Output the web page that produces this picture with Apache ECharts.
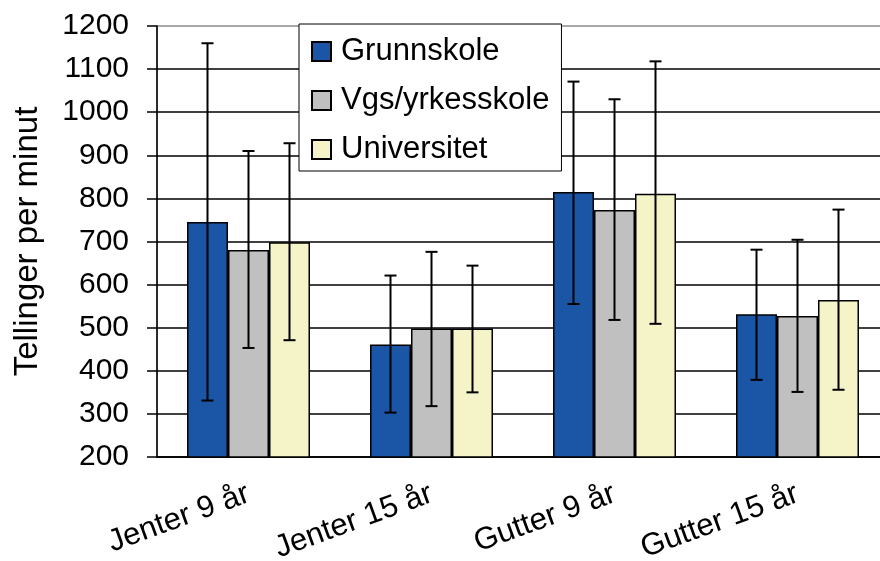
<!DOCTYPE html>
<html>
<head>
<meta charset="utf-8">
<script src="https://cdn.jsdelivr.net/npm/echarts@6/dist/echarts.min.js"></script>
<style>
  html, body { margin: 0; padding: 0; background: #fff; }
  #chart { width: 880px; height: 561px; }
</style>
</head>
<body>
<div id="chart"></div>
<script>
// kategorier og serier
const categories = ['Jenter 9 år', 'Jenter 15 år', 'Gutter 9 år', 'Gutter 15 år'];
const seriesNames = ['Grunnskole', 'Vgs/yrkesskole', 'Universitet'];

const grunnskole = [745, 461, 815, 531];
const vgs = [680, 498, 773, 527];
const universitet = [698, 498, 811, 564];

// feilfelt (nedre / øvre)
const grunnskoleLow = [331, 303, 555, 379];
const grunnskoleHigh = [1160, 621, 1071, 681];
const vgsLow = [453, 318, 518, 351];
const vgsHigh = [910, 676, 1030, 704];
const universitetLow = [471, 350, 509, 356];
const universitetHigh = [928, 644, 1118, 774];

const yTicks = [200, 1200, 100]; // min, max, interval

const colors = ['#1a55a6', '#c0c0c0', '#f4f4c8'];
const font = 'Liberation Sans, Arial, sans-serif';
const barW = 41;

const values = [grunnskole, vgs, universitet];
const lows = [grunnskoleLow, vgsLow, universitetLow];
const highs = [grunnskoleHigh, vgsHigh, universitetHigh];

function errorSeries(idx) {
  const data = categories.map((c, i) => [i, lows[idx][i], highs[idx][i]]);
  return {
    type: 'custom',
    name: seriesNames[idx] + '-err',
    z: 5,
    data: data,
    encode: { x: 0, y: [1, 2] },
    renderItem: function (params, api) {
      const x = api.value(0);
      const lo = api.coord([x, api.value(1)]);
      const hi = api.coord([x, api.value(2)]);
      const cx = lo[0] + (idx - 1) * barW;
      const cap = 6;
      const style = { stroke: '#000', lineWidth: 2 };
      return {
        type: 'group',
        children: [
          { type: 'line', shape: { x1: cx, y1: lo[1], x2: cx, y2: hi[1] }, style: style },
          { type: 'line', shape: { x1: cx - cap, y1: lo[1], x2: cx + cap, y2: lo[1] }, style: style },
          { type: 'line', shape: { x1: cx - cap, y1: hi[1], x2: cx + cap, y2: hi[1] }, style: style }
        ]
      };
    }
  };
}

const chart = echarts.init(document.getElementById('chart'));
const option = {
  animation: false,
  textStyle: { fontFamily: font },
  grid: {
    left: 157, top: 26, width: 732, height: 431,
    outerBoundsMode: 'none',
    containLabel: false,
    show: true, borderColor: '#8c8c8c', borderWidth: 1.5
  },
  legend: {
    data: seriesNames,
    orient: 'vertical',
    left: 299,
    top: 24,
    backgroundColor: '#fff',
    borderColor: '#000',
    borderWidth: 1,
    padding: [12, 12, 6, 12],
    icon: 'rect',
    itemWidth: 19,
    itemHeight: 19,
    itemGap: 18,
    textStyle: { fontSize: 31, color: '#000', fontFamily: font, lineHeight: 30, padding: [0, 0, 0, 5] }
  },
  xAxis: {
    type: 'category',
    data: categories,
    axisLine: { lineStyle: { color: '#000', width: 1.5 } },
    axisTick: { length: 10, lineStyle: { color: '#000', width: 1.5 } },
    axisLabel: { rotate: 20, fontSize: 31, color: '#000', margin: 36, fontFamily: font }
  },
  yAxis: {
    type: 'value',
    min: yTicks[0],
    max: yTicks[1],
    interval: yTicks[2],
    name: 'Tellinger per minut',
    nameLocation: 'middle',
    nameRotate: 90,
    nameGap: 113,
    nameTextStyle: { fontSize: 33, color: '#000', fontFamily: font },
    axisLine: { show: true, lineStyle: { color: '#000', width: 1.5 } },
    axisTick: { show: true, length: 10, lineStyle: { color: '#000', width: 1.5 } },
    axisLabel: { fontSize: 30, color: '#000', margin: 28, fontFamily: font, formatter: v => String(v) },
    splitLine: { showMaxLine: false, lineStyle: { color: '#000', width: 1.5 } }
  },
  series: values.map((arr, i) => ({
    type: 'bar',
    name: seriesNames[i],
    data: arr,
    barWidth: barW,
    barGap: '0%',
    itemStyle: { color: colors[i], borderColor: '#000', borderWidth: 1.5 }
  })).concat([0, 1, 2].map(errorSeries))
};
chart.setOption(option);
</script>
</body>
</html>
